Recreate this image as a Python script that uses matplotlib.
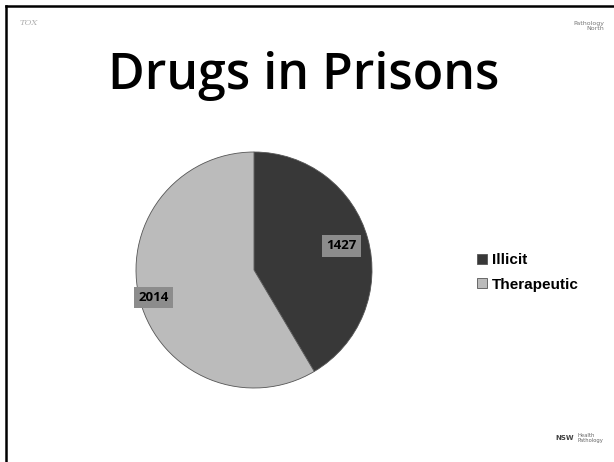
import matplotlib.pyplot as plt
import numpy as np

# data
categories = ['Illicit', 'Therapeutic']
counts = [1427, 2014]
colors = ['#383838', '#bbbbbb']

W, H = 614, 462
fig = plt.figure(figsize=(W / 100, H / 100), dpi=100)
fig.patch.set_facecolor('white')

# slide frame (top and left edges only are visible)
fig.add_artist(plt.Line2D([6 / W, 1], [1 - 6 / H, 1 - 6 / H], color='black', lw=1.8))
fig.add_artist(plt.Line2D([6 / W, 6 / W], [0, 1 - 6 / H], color='black', lw=1.8))

# title
fig.text(0.495, 1 - 76 / H, 'Drugs in Prisons', ha='center', va='center',
         fontsize=36, fontweight=600, family='Open Sans')

# small logos as text
fig.text(20 / W, 1 - 23 / H, 'TOX', fontsize=6, color='#b0b0b0', family='DejaVu Serif',
         style='italic', va='center')
fig.text(1 - 10 / W, 1 - 26 / H, 'Pathology\nNorth', fontsize=4.5, color='#777777',
         ha='right', va='center', linespacing=0.9)
fig.text(565 / W, 1 - 438 / H, 'NSW', fontsize=5, color='#444444', fontweight='bold',
         ha='center', va='center')
fig.text(578 / W, 1 - 438 / H, 'Health\nPathology', fontsize=3.8, color='#666666',
         ha='left', va='center', linespacing=1.0)

# pie
cx, cy, r = 254, 270, 118
ax = fig.add_axes([(cx - r) / W, (H - cy - r) / H, 2 * r / W, 2 * r / H])
wedges, _ = ax.pie(counts, colors=colors, startangle=90, counterclock=False,
                   wedgeprops=dict(edgecolor='#555555', linewidth=0.6))
ax.set_xlim(-1, 1)
ax.set_ylim(-1, 1)
ax.axis('off')

dists = [0.77, 0.88]
for w, v, d in zip(wedges, counts, dists):
    ang = np.deg2rad((w.theta1 + w.theta2) / 2)
    ax.text(d * np.cos(ang), d * np.sin(ang), str(v), ha='center', va='center',
            fontsize=9.5, fontweight='bold', family='Open Sans',
            bbox=dict(facecolor='#8c8c8c', edgecolor='none', pad=3))

fig.legend(wedges, categories, loc='upper left', bbox_to_anchor=(477 / W, 1 - 253 / H),
           frameon=False, prop=dict(family='Liberation Sans', weight='bold', size=11),
           handlelength=0.65, handleheight=0.65, handletextpad=0.3, labelspacing=0.7,
           borderpad=0, borderaxespad=0)

fig.savefig('out.png', dpi=100)
